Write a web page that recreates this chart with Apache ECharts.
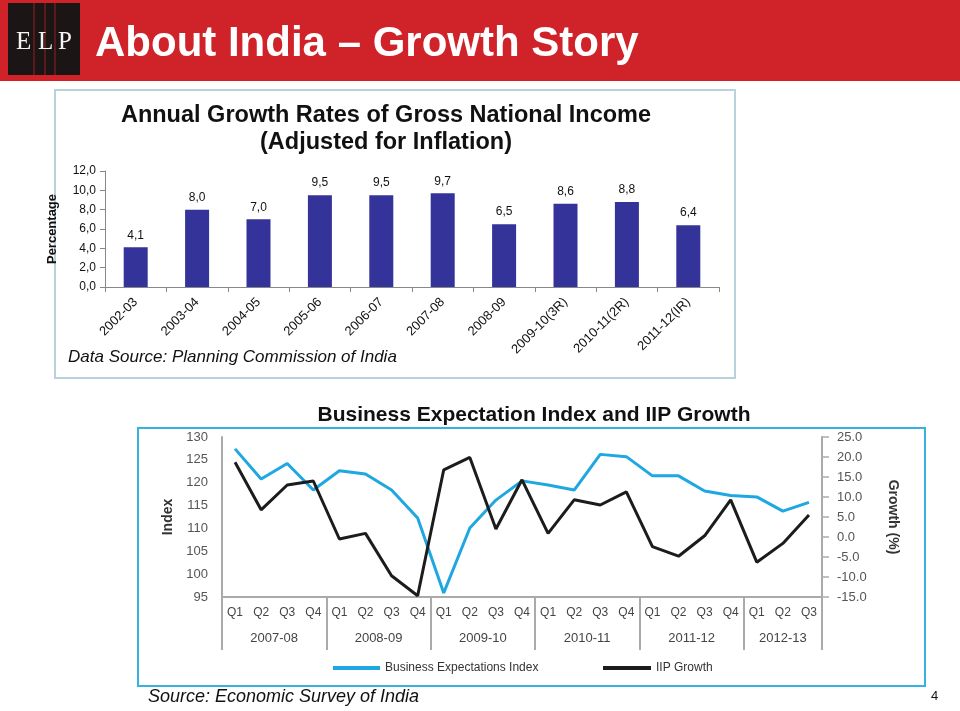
<!DOCTYPE html>
<html>
<head>
<meta charset="utf-8">
<script src="https://cdn.jsdelivr.net/npm/echarts@6/dist/echarts.min.js"></script>
<style>
html,body{margin:0;padding:0;background:#fff;}
#c{width:960px;height:711px;}
</style>
</head>
<body>
<div id="c"></div>
<script>
// ---- Data ----
const gniYears = ['2002-03','2003-04','2004-05','2005-06','2006-07','2007-08','2008-09','2009-10(3R)','2010-11(2R)','2011-12(IR)'];
const gniGrowth = [4.1, 8.0, 7.0, 9.5, 9.5, 9.7, 6.5, 8.6, 8.8, 6.4];
const gniTicks = [0, 2, 4, 6, 8, 10, 12];

const fiscalYears = ['2007-08','2008-09','2009-10','2010-11','2011-12','2012-13'];
const quartersPerYear = [4, 4, 4, 4, 4, 3];
const quarterNames = ['Q1','Q2','Q3','Q4'];
const beiValues = [127.4,120.8,124.2,118.4,122.6,121.9,118.4,112.3,95.9,110.1,116.2,120.4,119.5,118.4,126.2,125.7,121.5,121.5,118.2,117.2,116.9,113.8,115.7];
const iipValues = [18.7,6.8,13.0,14.0,-0.5,0.9,-9.7,-14.7,16.8,19.9,2.0,14.3,0.9,9.3,8.0,11.3,-2.4,-4.8,0.3,9.3,-6.3,-1.6,5.5];
const indexTicks = [95,100,105,110,115,120,125,130];
const growthTicks = [-15,-10,-5,0,5,10,15,20,25];

// derived
const quarterCats = [];
quartersPerYear.forEach(n => { for (let i = 0; i < n; i++) quarterCats.push(quarterNames[i]); });
const yearBounds = [0];
quartersPerYear.forEach(n => yearBounds.push(yearBounds[yearBounds.length - 1] + n));
const yearMids = fiscalYears.map((y, i) => (yearBounds[i] + yearBounds[i + 1]) / 2);

const SANS = "'Liberation Sans', Arial, sans-serif";
const SERIF = "'Liberation Serif', 'DejaVu Serif', serif";

const chart = echarts.init(document.getElementById('c'), null, {renderer: 'canvas'});

const option = {
  backgroundColor: '#ffffff',
  animation: false,
  title: [
    {
      text: 'Annual Growth Rates of Gross National Income\n(Adjusted for Inflation)',
      left: 381, top: 97, textAlign: 'center',
      textStyle: {fontFamily: SANS, fontSize: 23.5, fontWeight: 'bold', color: '#111', lineHeight: 27}
    },
    {
      text: 'Business Expectation Index and IIP Growth',
      left: 529, top: 400, textAlign: 'center',
      textStyle: {fontFamily: SANS, fontSize: 21, fontWeight: 'bold', color: '#111'}
    }
  ],
  graphic: [
    // header band
    {type: 'rect', shape: {x: 0, y: 0, width: 960, height: 81}, style: {fill: '#cf2229'}, silent: true},
    {type: 'rect', shape: {x: 8, y: 3, width: 72, height: 72}, style: {fill: '#1b1515'}, silent: true},
    {type: 'line', shape: {x1: 34, y1: 3, x2: 34, y2: 75}, style: {stroke: '#9b2020', lineWidth: 1}, silent: true},
    {type: 'line', shape: {x1: 45, y1: 3, x2: 45, y2: 75}, style: {stroke: '#9b2020', lineWidth: 1}, silent: true},
    {type: 'line', shape: {x1: 55, y1: 3, x2: 55, y2: 75}, style: {stroke: '#9b2020', lineWidth: 1}, silent: true},
    {type: 'text', left: 16, top: 30, style: {text: 'E', fill: '#f4f4f4', font: '25px ' + SERIF}, silent: true},
    {type: 'text', left: 38, top: 30, style: {text: 'L', fill: '#f4f4f4', font: '25px ' + SERIF}, silent: true},
    {type: 'text', left: 58, top: 30, style: {text: 'P', fill: '#f4f4f4', font: '25px ' + SERIF}, silent: true},
    {type: 'text', left: 95, top: 23, style: {text: 'About India \u2013 Growth Story', fill: '#ffffff', font: 'bold 42px ' + SANS}, silent: true},
    // top panel frame
    {type: 'rect', shape: {x: 55, y: 90, width: 680, height: 288}, style: {fill: 'none', stroke: '#b9d3dc', lineWidth: 2}, silent: true},
    {type: 'text', left: 68, top: 349, style: {text: 'Data Source: Planning Commission of India', fill: '#111', font: 'italic 17px ' + SANS}, silent: true},
    // bottom panel frame
    {type: 'rect', shape: {x: 138, y: 428, width: 787, height: 258}, style: {fill: 'none', stroke: '#36b2e2', lineWidth: 2}, silent: true},
    {type: 'text', left: 148, top: 688, style: {text: 'Source: Economic Survey of India', fill: '#111', font: 'italic 18px ' + SANS}, silent: true},
    {type: 'text', left: 931, top: 690, style: {text: '4', fill: '#111', font: '13px ' + SANS}, silent: true}
  ],
  legend: [
    {
      data: ['Business Expectations Index'], left: 328, top: 657,
      icon: 'rect', itemWidth: 47, itemHeight: 4,
      textStyle: {fontFamily: SANS, fontSize: 12, color: '#333'}
    },
    {
      data: ['IIP Growth'], left: 598, top: 657,
      icon: 'rect', itemWidth: 48, itemHeight: 4,
      textStyle: {fontFamily: SANS, fontSize: 12, color: '#333'}
    }
  ],
  grid: [
    {left: 105, top: 171, width: 614, height: 116, containLabel: false},
    {left: 222, top: 437, width: 600, height: 160, containLabel: false}
  ],
  xAxis: [
    {
      gridIndex: 0, type: 'category', data: gniYears,
      axisLine: {lineStyle: {color: '#888', width: 1}},
      axisTick: {show: true, length: 5, lineStyle: {color: '#888'}},
      axisLabel: {rotate: 45, fontFamily: SANS, fontSize: 13, color: '#111', margin: 13}
    },
    {
      gridIndex: 1, type: 'category', data: quarterCats, boundaryGap: true,
      axisLine: {onZero: false, lineStyle: {color: '#aaa', width: 2}},
      axisTick: {show: false},
      axisLabel: {fontFamily: SANS, fontSize: 12, color: '#444', margin: 10}
    },
    {
      gridIndex: 1, type: 'value', min: 0, max: quarterCats.length, position: 'bottom',
      axisLine: {show: false, onZero: false},
      splitLine: {show: false},
      axisTick: {show: true, customValues: yearBounds, length: 53, lineStyle: {color: '#aaa', width: 2}},
      axisLabel: {
        customValues: yearMids, margin: 35, fontFamily: SANS, fontSize: 13, color: '#444',
        formatter: v => { const i = yearMids.indexOf(v); return i >= 0 ? fiscalYears[i] : ''; }
      }
    }
  ],
  yAxis: [
    {
      gridIndex: 0, type: 'value', min: 0, max: 12, interval: 2,
      name: 'Percentage', nameLocation: 'middle', nameGap: 46, nameRotate: 90,
      nameTextStyle: {fontFamily: SANS, fontSize: 13, fontWeight: 'bold', color: '#111'},
      axisLine: {show: true, lineStyle: {color: '#888'}},
      axisTick: {show: true, length: 5, lineStyle: {color: '#888'}},
      splitLine: {show: false},
      axisLabel: {fontFamily: SANS, fontSize: 12, color: '#111', margin: 9,
        formatter: v => v.toFixed(1).replace('.', ',')}
    },
    {
      gridIndex: 1, type: 'value', min: 95, max: 130, interval: 5, position: 'left',
      name: 'Index', nameLocation: 'middle', nameGap: 44, nameRotate: 90,
      nameTextStyle: {fontFamily: SANS, fontSize: 14, fontWeight: 'bold', color: '#333'},
      axisLine: {show: true, onZero: false, lineStyle: {color: '#aaa', width: 2}},
      axisTick: {show: false},
      splitLine: {show: false},
      axisLabel: {fontFamily: SANS, fontSize: 13, color: '#555', margin: 14}
    },
    {
      gridIndex: 1, type: 'value', min: -15, max: 25, interval: 5, position: 'right',
      name: 'Growth (%)', nameLocation: 'middle', nameGap: 64, nameRotate: -90,
      nameTextStyle: {fontFamily: SANS, fontSize: 14, fontWeight: 'bold', color: '#333'},
      axisLine: {show: true, onZero: false, lineStyle: {color: '#aaa', width: 2}},
      axisTick: {show: true, length: 7, lineStyle: {color: '#aaa', width: 1.5}},
      splitLine: {show: false},
      axisLabel: {fontFamily: SANS, fontSize: 13, color: '#555', margin: 15,
        formatter: v => v.toFixed(1)}
    }
  ],
  series: [
    {
      type: 'bar', xAxisIndex: 0, yAxisIndex: 0, data: gniGrowth,
      barWidth: 24, itemStyle: {color: '#333399'},
      label: {show: true, position: 'top', distance: 6, fontFamily: SANS, fontSize: 12, color: '#111',
        formatter: p => p.value.toFixed(1).replace('.', ',')}
    },
    {
      name: 'Business Expectations Index', type: 'line', xAxisIndex: 1, yAxisIndex: 1,
      data: beiValues, showSymbol: false, lineStyle: {color: '#1ea7e1', width: 3}, itemStyle: {color: '#1ea7e1'}
    },
    {
      name: 'IIP Growth', type: 'line', xAxisIndex: 1, yAxisIndex: 2,
      data: iipValues, showSymbol: false, lineStyle: {color: '#1c1c1c', width: 3}, itemStyle: {color: '#1c1c1c'}
    }
  ]
};
chart.setOption(option);
</script>
</body>
</html>
